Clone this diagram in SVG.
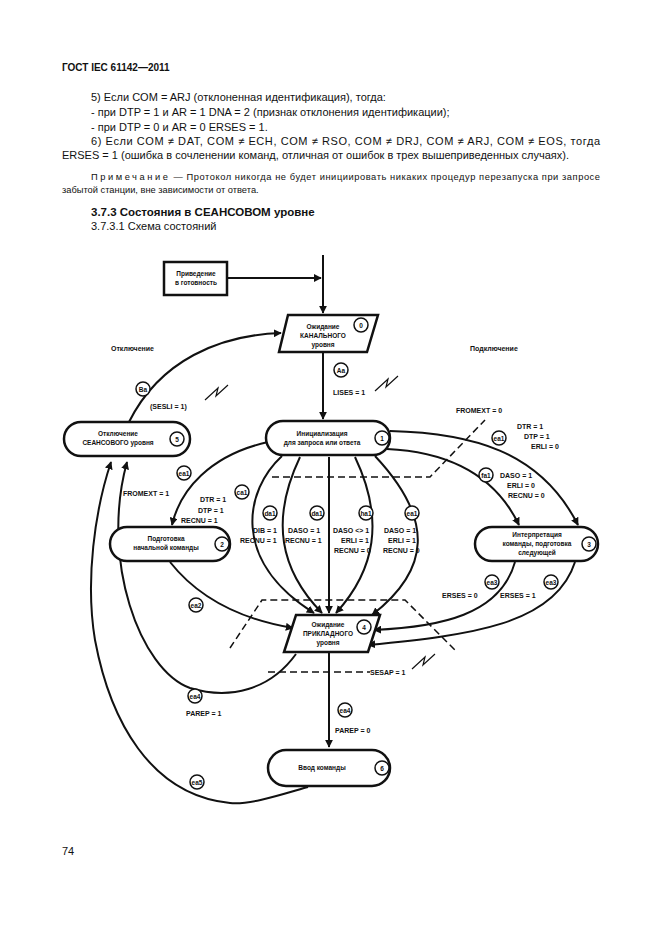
<svg xmlns="http://www.w3.org/2000/svg" width="661" height="935" viewBox="0 0 661 935">
<style>
.t{font-family:"Liberation Sans",Arial,sans-serif;font-size:11px;fill:#111}
.h{font-family:"Liberation Sans",Arial,sans-serif;font-size:10px;font-weight:bold;fill:#111}
.l{font-family:"Liberation Sans",Arial,sans-serif;font-size:7px;font-weight:bold;fill:#111}
.s{font-family:"Liberation Sans",Arial,sans-serif;font-size:6.5px;font-weight:bold;fill:#111;text-anchor:middle}
.n{fill:#fff;stroke:#111;stroke-width:2.5}
.c{fill:#fff;stroke:#111;stroke-width:1.5}
.e{fill:none;stroke:#111;stroke-width:2}
.d{fill:none;stroke:#111;stroke-width:1.5;stroke-dasharray:7,4}
.z{fill:none;stroke:#111;stroke-width:1.2}
</style>
<defs>
<marker id="a" viewBox="0 0 10 10" refX="9" refY="5" markerWidth="4" markerHeight="4" orient="auto"><path d="M0,0L10,5L0,10z" fill="#111"/></marker>
</defs>
<rect width="661" height="935" fill="#fff"/>
<text class="h" x="62" y="71">ГОСТ IEC 61142—2011</text>
<text class="t" x="91" y="101">5)  Если COM = ARJ (отклоненная идентификация), тогда:</text>
<text class="t" x="91" y="116">- при DTP = 1 и AR = 1 DNA = 2 (признак отклонения идентификации);</text>
<text class="t" x="91" y="131">- при DTP = 0 и AR = 0 ERSES = 1.</text>
<text class="t" x="91" y="145" textLength="509" lengthAdjust="spacing">6) Если COM ≠ DAT, COM ≠ ECH, COM ≠ RSO, COM ≠ DRJ, COM ≠ ARJ, COM ≠ EOS, тогда</text>
<text class="t" x="62" y="159">ERSES = 1 (ошибка в сочленении команд, отличная от ошибок в трех вышеприведенных случаях).</text>
<text class="t" x="91" y="180" style="font-size:9.3px" textLength="509" lengthAdjust="spacing"><tspan letter-spacing="2">Примечание</tspan> — Протокол никогда не будет инициировать никаких процедур перезапуска при запросе</text>
<text class="t" x="62" y="193" style="font-size:9.3px">забытой станции, вне зависимости от ответа.</text>
<text class="h" x="91" y="216" style="font-size:11.5px">3.7.3  Состояния в СЕАНСОВОМ уровне</text>
<text class="t" x="91" y="230">3.7.3.1 Схема состояний</text>

<g id="connectors">
<path class="e" d="M323,255V313" marker-end="url(#a)"/>
<path class="e" d="M227,278H321" marker-end="url(#a)"/>
<path class="e" d="M323,352V419" marker-end="url(#a)"/>
<path class="e" d="M129,422C160,360 220,335 281,333" marker-end="url(#a)"/>
<path class="e" d="M268,442C210,455 180,490 172,525" marker-end="url(#a)"/>
<path class="e" d="M282,456C245,490 230,560 314,613" marker-end="url(#a)"/>
<path class="e" d="M300,457C270,520 280,570 322,613" marker-end="url(#a)"/>
<path class="e" d="M329,457V613" marker-end="url(#a)"/>
<path class="e" d="M355,457C385,520 375,570 336,613" marker-end="url(#a)"/>
<path class="e" d="M375,456C435,520 430,570 372,615" marker-end="url(#a)"/>
<path class="e" d="M390,431C470,433 540,450 578,525" marker-end="url(#a)"/>
<path class="e" d="M387,449C450,452 495,475 519,525" marker-end="url(#a)"/>
<path class="e" d="M515,562C500,615 440,627 374,630" marker-end="url(#a)"/>
<path class="e" d="M575,562C555,625 470,635 368,645" marker-end="url(#a)"/>
<path class="e" d="M170,562C200,600 245,620 293,628" marker-end="url(#a)"/>
<path class="e" d="M329,652V747" marker-end="url(#a)"/>
<path class="e" d="M296,654C270,690 230,700 190,688C140,670 100,560 127,462" marker-end="url(#a)"/>
<path class="e" d="M308,787C280,795 250,805 230,803C150,795 110,720 95,640C85,580 95,510 111,462" marker-end="url(#a)"/>
<path class="d" d="M272,477H430L485,420"/>
<path class="d" d="M230,648L262,600H405L455,650"/>
<path class="d" d="M268,672H370"/>
<path class="z" d="M375,391L388,379L386,387L398,376"/>
<path class="z" d="M205,400L218,388L216,396L228,385"/>
<path class="z" d="M412,669L425,657L423,665L435,654"/>
</g>

<g id="labels">
<text class="l" x="111" y="351">Отключение</text>
<text class="l" x="470" y="351">Подключение</text>
<circle class="c" cx="143" cy="389" r="7"/><text class="s" x="143" y="392">Ba</text>
<text class="l" x="150" y="409">(SESLI = 1)</text>
<circle class="c" cx="341" cy="370" r="7"/><text class="s" x="341" y="373">Aa</text>
<text class="l" x="333" y="395">LISES = 1</text>
<text class="l" x="456" y="413">FROMEXT = 0</text>
<circle class="c" cx="499" cy="438" r="7"/><text class="s" x="499" y="441">ea1</text>
<text class="l" x="517" y="429">DTR = 1</text>
<text class="l" x="524" y="439">DTP = 1</text>
<text class="l" x="531" y="449">ERLI = 0</text>
<circle class="c" cx="486" cy="475" r="7"/><text class="s" x="486" y="478">fa1</text>
<text class="l" x="500" y="478">DASO = 1</text>
<text class="l" x="507" y="488">ERLI = 0</text>
<text class="l" x="508" y="498">RECNU = 0</text>
<circle class="c" cx="184" cy="473" r="7"/><text class="s" x="184" y="476">ea1</text>
<text class="l" x="123" y="496">FROMEXT = 1</text>
<circle class="c" cx="242" cy="492" r="7"/><text class="s" x="242" y="495">ca1</text>
<text class="l" x="200" y="502">DTR = 1</text>
<text class="l" x="198" y="513">DTP = 1</text>
<text class="l" x="181" y="523">RECNU = 1</text>
<circle class="c" cx="270" cy="513" r="7"/><text class="s" x="270" y="516">da1</text>
<circle class="c" cx="317" cy="513" r="7"/><text class="s" x="317" y="516">da1</text>
<circle class="c" cx="366" cy="513" r="7"/><text class="s" x="366" y="516">ha1</text>
<circle class="c" cx="412" cy="513" r="7"/><text class="s" x="412" y="516">ea1</text>
<text class="l" x="253" y="533">DIB = 1</text>
<text class="l" x="240" y="543">RECNU = 1</text>
<text class="l" x="288" y="533">DASO = 1</text>
<text class="l" x="285" y="543">RECNU = 1</text>
<text class="l" x="333" y="533">DASO &lt;&gt; 1</text>
<text class="l" x="341" y="543">ERLI = 1</text>
<text class="l" x="334" y="553">RECNU = 0</text>
<text class="l" x="384" y="533">DASO = 1</text>
<text class="l" x="388" y="543">ERLI = 1</text>
<text class="l" x="383" y="553">RECNU = 0</text>
<circle class="c" cx="492" cy="582" r="7"/><text class="s" x="492" y="585">ea3</text>
<text class="l" x="442" y="598">ERSES = 0</text>
<circle class="c" cx="551" cy="582" r="7"/><text class="s" x="551" y="585">ea3</text>
<text class="l" x="500" y="598">ERSES = 1</text>
<circle class="c" cx="196" cy="605" r="7"/><text class="s" x="196" y="608">ea2</text>
<text class="l" x="370" y="675">SESAP = 1</text>
<circle class="c" cx="195" cy="696" r="7"/><text class="s" x="195" y="699">ea4</text>
<text class="l" x="186" y="716">PAREP = 1</text>
<circle class="c" cx="345" cy="710" r="7"/><text class="s" x="345" y="713">ea4</text>
<text class="l" x="335" y="733">PAREP = 0</text>
<circle class="c" cx="197" cy="782" r="7"/><text class="s" x="197" y="785">ea5</text>
</g>

<g id="ready"><rect class="n" x="164" y="262" width="63" height="33"/>
<text class="s" x="196" y="276">Приведение</text><text class="s" x="196" y="285">в готовность</text></g>

<g id="s0"><path class="n" d="M288,315H378L367,352H279Z"/>
<text class="s" x="323" y="329">Ожидание</text><text class="s" x="323" y="338">КАНАЛЬНОГО</text><text class="s" x="323" y="347">уровня</text>
<circle class="c" cx="361" cy="325" r="7"/><text class="s" x="361" y="328">0</text></g>

<g id="s1"><rect class="n" x="266" y="421" width="124" height="34" rx="17"/>
<text class="s" x="322" y="436">Инициализация</text><text class="s" x="322" y="445">для запроса или ответа</text>
<circle class="c" cx="382" cy="438" r="7"/><text class="s" x="382" y="441">1</text></g>

<g id="s5"><rect class="n" x="64" y="422" width="126" height="34" rx="17"/>
<text class="s" x="118" y="436">Отключение</text><text class="s" x="118" y="445">СЕАНСОВОГО уровня</text>
<circle class="c" cx="177" cy="439" r="7"/><text class="s" x="177" y="442">5</text></g>

<g id="s2"><rect class="n" x="110" y="527" width="120" height="34" rx="17"/>
<text class="s" x="166" y="541">Подготовка</text><text class="s" x="166" y="550">начальной команды</text>
<circle class="c" cx="222" cy="544" r="7"/><text class="s" x="222" y="547">2</text></g>

<g id="s3"><rect class="n" x="475" y="527" width="123" height="34" rx="17"/>
<text class="s" x="537" y="537">Интерпретация</text><text class="s" x="537" y="546">команды, подготовка</text><text class="s" x="537" y="555">следующей</text>
<circle class="c" cx="589" cy="544" r="7"/><text class="s" x="589" y="547">3</text></g>

<g id="s4"><path class="n" d="M296,615H380L368,652H284Z"/>
<text class="s" x="328" y="627">Ожидание</text><text class="s" x="328" y="636">ПРИКЛАДНОГО</text><text class="s" x="328" y="645">уровня</text>
<circle class="c" cx="364" cy="627" r="7"/><text class="s" x="364" y="630">4</text></g>

<g id="s6"><rect class="n" x="268" y="750" width="122" height="36" rx="18"/>
<text class="s" x="322" y="770">Ввод команды</text>
<circle class="c" cx="382" cy="768" r="7"/><text class="s" x="382" y="771">6</text></g>

<text class="t" x="62" y="855">74</text>
</svg>
